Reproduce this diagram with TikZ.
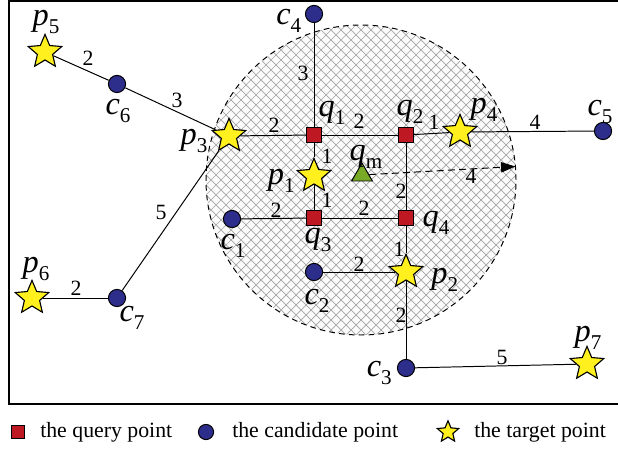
\documentclass[tikz,border=0pt]{standalone}
\usepackage{fontspec}
\setmainfont{Liberation Serif}
\usepackage{tikz}
\usetikzlibrary{arrows.meta,positioning,calc,shapes.geometric}
\definecolor{qr}{RGB}{190,25,35}
\definecolor{cb}{RGB}{45,45,140}
\definecolor{ty}{RGB}{255,240,30}
\definecolor{mg}{RGB}{120,170,40}
\definecolor{hg}{RGB}{165,165,165}
\newcommand{\PT}[2]{\textit{#1}\raisebox{-0.5ex}{\fontsize{15}{15}\selectfont #2}}

\begin{document}
\begin{tikzpicture}[x=1cm,y=1cm,
  qry/.style={draw=black,fill=qr,rectangle,minimum size=0.36cm,inner sep=0pt,line width=0.7pt},
  cand/.style={draw=black,fill=cb,circle,minimum size=0.43cm,inner sep=0pt,line width=0.7pt},
  tgt/.style={draw=black,fill=ty,star,star points=5,star point ratio=2.2,minimum size=0.88cm,inner sep=0pt,line width=0.8pt},
  mid/.style={draw=black,fill=mg,regular polygon,regular polygon sides=3,minimum size=0.6cm,inner sep=0pt,line width=0.7pt},
  lbl/.style={font=\fontsize{23}{25}\selectfont,inner sep=0pt},
  wt/.style={font=\fontsize{15.5}{18}\selectfont,inner sep=0pt},
  lnk/.style={line width=0.7pt},
  leg/.style={font=\fontsize{15.5}{18}\selectfont,anchor=west,inner sep=0pt}]
  \useasboundingbox (0,0) rectangle (15.45,11.2);
  \draw[line width=1.4pt] (0.225,1.1) rectangle (15.8,11.175);

  % search region
  \coordinate (ctr) at (9.025,6.7);
  \begin{scope}
    \clip (ctr) circle (3.875);
    \fill[gray!3] (ctr) circle (3.875);
    \foreach \k in {-24,...,24} {
      \draw[hg,line width=0.5pt] ($(ctr)+(\k*0.25,0)+(-5,-5)$) -- ++(10,10);
      \draw[hg,line width=0.5pt] ($(ctr)+(\k*0.25,0)+(-5,5)$) -- ++(10,-10);
    }
  \end{scope}
  \draw[dashed,line width=0.7pt,dash pattern=on 4pt off 3pt] (ctr) circle (3.875);
  \coordinate (rim) at ($(ctr)+(5:3.875)$);

  % points
  \node[tgt] (p5) at (1.125,9.9) {};
  \node[cand] (c6) at (2.925,9.1) {};
  \node[tgt] (p3) at (5.725,7.8) {};
  \node[cand] (c4) at (7.85,10.85) {};
  \node[qry] (q1) at (7.85,7.825) {};
  \node[qry] (q2) at (10.15,7.825) {};
  \node[tgt] (p4) at (11.5,7.9) {};
  \node[cand] (c5) at (15.075,7.925) {};
  \node[tgt] (p1) at (7.85,6.8) {};
  \node[mid] (qm) at (9.05,6.825) {};
  \node[qry] (q3) at (7.85,5.75) {};
  \node[qry] (q4) at (10.15,5.75) {};
  \node[cand] (c1) at (5.8,5.725) {};
  \node[cand] (c2) at (7.85,4.4) {};
  \node[tgt] (p2) at (10.15,4.4) {};
  \node[cand] (c3) at (10.15,2.0) {};
  \node[tgt] (p7) at (14.675,2.1) {};
  \node[tgt] (p6) at (0.8,3.75) {};
  \node[cand] (c7) at (2.925,3.75) {};

  % links
  \draw[lnk] (p5) -- (c6);
  \draw[lnk] (c6) -- (p3);
  \draw[lnk] (p3) -- (q1);
  \draw[lnk] (c4) -- (q1);
  \draw[lnk] (q1) -- (q2);
  \draw[lnk] (q2) -- (p4);
  \draw[lnk] (p4) -- (c5);
  \draw[lnk] (q1) -- (p1);
  \draw[lnk] (p1) -- (q3);
  \draw[lnk] (q2) -- (q4);
  \draw[lnk] (q3) -- (q4);
  \draw[lnk] (c1) -- (q3);
  \draw[lnk] (q4) -- (p2);
  \draw[lnk] (c2) -- (p2);
  \draw[lnk] (p2) -- (c3);
  \draw[lnk] (c3) -- (p7);
  \draw[lnk] (p3) -- (c7);
  \draw[lnk] (p6) -- (c7);
  \draw[lnk,dashed,dash pattern=on 5pt off 3pt,-{Triangle[length=3.6mm,width=2.6mm]}] (qm) -- (rim);

  % names
  \node[lbl] (p5l) at (1.15,10.65) {\PT{p}{5}};
  \node[lbl] (c6l) at (2.95,8.425) {\PT{c}{6}};
  \node[lbl] (p3l) at (4.85,7.675) {\PT{p}{3}};
  \node[lbl] (c4l) at (7.22,10.68) {\PT{c}{4}};
  \node[lbl] (q1l) at (8.3,8.375) {\PT{q}{1}};
  \node[lbl] (q2l) at (10.25,8.4) {\PT{q}{2}};
  \node[lbl] (p4l) at (12.1,8.45) {\PT{p}{4}};
  \node[lbl] (c5l) at (15.0,8.4) {\PT{c}{5}};
  \node[lbl] (p1l) at (7.03,6.675) {\PT{p}{1}};
  \node[lbl] (qml) at (9.15,7.275) {\PT{q}{m}};
  \node[lbl] (q3l) at (7.95,5.2) {\PT{q}{3}};
  \node[lbl] (q4l) at (10.9,5.625) {\PT{q}{4}};
  \node[lbl] (c1l) at (5.825,5.05) {\PT{c}{1}};
  \node[lbl] (c2l) at (7.925,3.675) {\PT{c}{2}};
  \node[lbl] (p2l) at (11.12,4.2) {\PT{p}{2}};
  \node[lbl] (c3l) at (9.48,1.875) {\PT{c}{3}};
  \node[lbl] (p7l) at (14.7,2.75) {\PT{p}{7}};
  \node[lbl] (p6l) at (0.9,4.475) {\PT{p}{6}};
  \node[lbl] (c7l) at (3.3,3.25) {\PT{c}{7}};

  % weights
  \node[wt] (w1) at (2.2,9.75) {2};
  \node[wt] (w2) at (4.425,8.7) {3};
  \node[wt] (w3) at (6.85,8.075) {2};
  \node[wt] (w4) at (7.575,9.375) {3};
  \node[wt] (w5) at (8.975,8.175) {2};
  \node[wt] (w6) at (10.85,8.15) {1};
  \node[wt] (w7) at (13.375,8.15) {4};
  \node[wt] (w8) at (8.175,7.3) {1};
  \node[wt] (w9) at (8.175,6.2) {1};
  \node[wt] (w10) at (10.025,6.425) {2};
  \node[wt] (w11) at (9.1,6.0) {2};
  \node[wt] (w12) at (6.9,5.95) {2};
  \node[wt] (w13) at (9.975,4.975) {1};
  \node[wt] (w14) at (8.975,4.6) {2};
  \node[wt] (w15) at (10.025,3.325) {2};
  \node[wt] (w16) at (12.55,2.275) {5};
  \node[wt] (w17) at (4.025,5.9) {5};
  \node[wt] (w18) at (1.9,4.0) {2};
  \node[wt] (w19) at (11.775,6.8) {4};

  % legend
  \node[qry,minimum size=0.33cm] (lq) at (0.45,0.4) {};
  \node[leg] (lqt) at (1.0,0.4) {the query point};
  \node[cand,minimum size=0.38cm] (lc) at (5.15,0.4) {};
  \node[leg] (lct) at (5.8,0.4) {the candidate point};
  \node[tgt,minimum size=0.56cm] (lp) at (11.2,0.4) {};
  \node[leg] (lpt) at (11.85,0.4) {the target point};
\end{tikzpicture}
\end{document}
